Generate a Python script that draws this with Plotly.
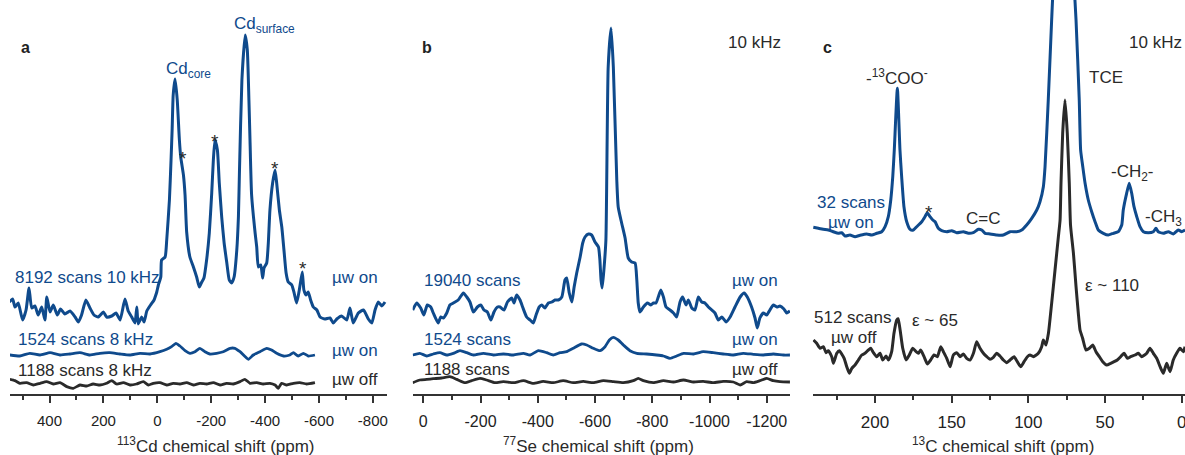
import plotly.graph_objects as go

# ---------------- data (ppm, intensity in arbitrary units) ----------------
# Panel a: 113Cd
CD_MAIN_PPM = [549, 537, 528, 516, 500, 487, 476, 466, 454, 442,
               429, 417, 410, 398, 386, 371, 359, 343, 324, 305,
               293, 281, 265, 250, 235, 219, 200, 188, 169, 153,
               138, 120, 108, 95, 83, 76, 71, 58, 49, 39,
               25, 12, 8, 2, -4, -13, -16, -29, -35, -45,
               -51, -55, -59, -66, -74, -82, -87, -97, -103, -109,
               -121, -134, -146, -156, -165, -173, -183, -193, -202, -208,
               -214, -223, -230, -239, -248, -258, -267, -276, -285, -295,
               -301, -305, -314, -326, -334, -340, -344, -350, -363, -369,
               -375, -384, -391, -396, -406, -412, -418, -428, -437, -443,
               -453, -462, -470, -478, -486, -499, -507, -517, -527, -538,
               -544, -552, -560, -569, -579, -592, -604, -622, -641, -653,
               -666, -684, -703, -715, -727, -746, -765, -783, -796, -808,
               -820, -833, -845]
CD_MAIN_INT = [3, 6, -2, 2, -15, -5, 17, -3, -1, -10,
               -2, -15, 8, -7, 0, -10, -4, -9, -6, -12,
               -17, -10, 5, -3, -10, -12, -7, -12, -11, -8,
               -15, 6, -6, -12, -18, -2, -19, -12, -17, -6,
               0, 5, 8, 13, 20, 28, 45, 48, 65, 105,
               145, 175, 210, 226, 205, 165, 148, 130, 110, 73,
               48, 38, 28, 18, 23, 27, 45, 72, 112, 145,
               165, 155, 122, 88, 62, 42, 25, 22, 28, 55,
               88, 135, 225, 270, 255, 205, 165, 110, 72, 58,
               38, 40, 27, 37, 42, 62, 95, 122, 135, 122,
               95, 78, 55, 32, 23, 20, 13, 2, 15, 33,
               15, 10, 13, 5, -2, -5, -12, -14, -13, -18,
               -14, -11, -15, -3, -18, -8, -5, -14, -18, -5,
               3, -1, 3]

CD_ON8_PPM = [547, 510, 473, 435, 398, 361, 324, 287, 250, 213,
              176, 139, 101, 64, 27, -10, -35, -53, -69, -84,
              -103, -121, -140, -158, -177, -195, -220, -245, -270, -288,
              -307, -338, -356, -381, -406, -424, -443, -468, -492, -505,
              -523, -542, -560, -585]
CD_ON8_INT = [0, -1, 1.7, 0, 2.3, 0, 1, 2.3, 0, 1.7,
              2.3, 1, 0, 1.7, 1, 3.3, 5.7, 8.3, 11.7, 9,
              4.3, 1.7, 3.3, 6.7, 3.3, 1, 1.7, 3.3, 6.7, 6.7,
              3.3, -4.3, 0, 3.3, 6.7, 5, 1.7, -1, 0, 2.3,
              -1, 1.7, -1, 0]

CD_OFF_PPM = [547, 528, 510, 485, 460, 435, 411, 386, 361, 336,
              312, 287, 262, 238, 213, 188, 169, 151, 126, 101,
              77, 52, 33, 15, -10, -35, -59, -84, -109, -134,
              -158, -183, -208, -233, -257, -282, -307, -325, -344, -369,
              -393, -418, -437, -449, -461, -480, -505, -529, -554, -585]
CD_OFF_INT = [4, 2.7, 0, 0.7, -1.7, 0, 1.7, -0.7, 0.7, -3.3,
              -5, -1.7, -2.7, -0.7, -1.7, 0, 2.7, -0.7, 0.7, -1.7,
              -0.7, 1.7, -1.7, 0, 0.7, -1.7, 0, -0.7, 0.7, -1.7,
              0, -0.7, 0.7, -1.7, 0, -0.7, 1.7, 4, 0, 0.7,
              -0.7, 0, -1.7, -5, 0, -1.7, 0, 0.7, -0.7, 0.7]

# Panel b: 77Se
SE_MAIN_PPM = [37, 23, 9, -2, -14, -26, -35, -52, -61, -70,
               -82, -93, -105, -122, -140, -152, -163, -175, -189, -201,
               -212, -224, -236, -247, -259, -268, -282, -294, -309, -317,
               -326, -338, -347, -361, -373, -384, -394, -405, -414, -425,
               -437, -449, -460, -472, -484, -495, -501, -510, -519, -527,
               -536, -548, -557, -565, -577, -588, -600, -612, -617, -621,
               -625, -631, -638, -646, -656, -664, -676, -681, -693, -705,
               -716, -728, -740, -746, -751, -757, -769, -783, -795, -804,
               -813, -821, -830, -839, -848, -862, -874, -885, -897, -906,
               -918, -926, -938, -949, -961, -973, -984, -996, -1008, -1019,
               -1031, -1043, -1058, -1072, -1089, -1107, -1121, -1132, -1147, -1159,
               -1167, -1176, -1188, -1200, -1211, -1223, -1235, -1246, -1260, -1270,
               -1281]
SE_MAIN_INT = [0, 7, 2, -5, 5, 3, -3, -13, -7, -8,
               -3, 5, 7, 10, 17, 13, 8, -2, 3, 5,
               0, -2, -10, -2, 3, 3, 0, 8, 12, 7,
               15, 10, 3, -7, -10, -13, -5, 3, 5, 2,
               7, 8, 10, 10, 13, 30, 32, 17, 8, 23,
               37, 53, 67, 73, 76, 75, 68, 63, 50, 30,
               22, 40, 70, 243, 282, 243, 130, 103, 87, 72,
               52, 48, 47, 30, 7, -2, 3, 7, 5, 7,
               7, 13, 20, 13, 3, 0, -3, -7, 8, 13,
               5, 10, 2, 0, 13, 8, 7, 3, 0, -3,
               -10, -7, -12, -7, 3, 13, 17, 13, 3, -8,
               -18, -8, -3, -5, 0, 5, 3, 4, 1, -3,
               -1]

SE_ON_PPM = [37, 12, -12, -35, -58, -82, -105, -128, -152, -175,
             -210, -245, -280, -315, -350, -373, -402, -431, -454, -478,
             -501, -524, -553, -571, -594, -617, -635, -650, -664, -681,
             -699, -722, -746, -780, -815, -839, -862, -885, -909, -944,
             -978, -1013, -1048, -1083, -1118, -1153, -1188, -1223, -1258, -1281]
SE_ON_INT = [0, 1.7, -1, 1, 2.3, 0, 1.7, 4.3, 2.3, 0,
             1.7, 0, 1, 0, 1.7, 0, 4.3, 2.3, 0, 2.3,
             3.3, 6.7, 11, 10, 6.7, 4.3, 8.3, 15, 17.7, 15,
             10, 4.3, 1.7, 1, 0, -1, -3.3, -1, 1.7, 1,
             3.3, 2.3, 1, 0, 1.7, 0.7, 0, 1, 0, 0]

SE_OFF_PPM = [37, 12, -12, -35, -64, -93, -117, -146, -169, -198,
              -221, -251, -280, -315, -350, -384, -419, -454, -489, -524,
              -559, -594, -629, -664, -699, -734, -751, -769, -804, -839,
              -874, -909, -944, -978, -1013, -1048, -1083, -1107, -1130, -1153,
              -1176, -1200, -1223, -1246, -1281]
SE_OFF_INT = [-1, 1.7, 2.3, 3, 3.7, 5, 2.3, -1, 1, 3.3,
              1.7, -1, 0, -1, 1, -1.7, 0.3, -1, 1, -1,
              0.3, -1, 1, 0, -1, 1, 3.3, 1, -1, 1,
              -0.3, 1.7, -0.3, 0.3, -1, 0.3, -0.3, -3.3, 0, -1,
              1, 3.3, 1, 0, -0.3]

# Panel c: 13C
C_ON_PPM = [240.2, 236.9, 233.7, 230.4, 227.2, 223.9, 221.7, 219.5, 216.3, 213,
            209.7, 205.4, 202.1, 198.9, 195.6, 193.4, 191.3, 189.7, 188.4, 187.4,
            185.4, 183.7, 182.6, 181.1, 179.3, 177.1, 175, 172.8, 169.5, 167.4,
            165.9, 164.1, 162.3, 160.8, 158.7, 156.5, 153.2, 150, 146.7, 142.4,
            139.1, 135.9, 132.6, 130.4, 128.2, 125, 120.6, 116.3, 111.9, 107.6,
            104.3, 101.1, 97.8, 94.5, 92.4, 90.2, 89.1, 87, 84.8, 82.6,
            77.1, 71.5, 68.9, 66.8, 65.9, 64.5, 63, 60.9, 58.7, 56.5,
            54.4, 51.1, 47.9, 44.6, 41.3, 39.1, 38.1, 35.9, 34.2, 32.6,
            31.1, 29.3, 27.2, 25, 21.8, 18.5, 16.8, 15.3, 12, 8.7,
            5.5, 2.2, 0, -2.2]
C_ON_INT = [4.7, 3.7, 2.7, 2, 0.3, -1.3, -0.7, -4, -3, -4.7,
            -3.3, -2, -3, -1.3, 0.3, 5.3, 15.3, 32, 55.3, 82,
            143.7, 82, 55.3, 25.3, 10.3, 2.7, 2, 5.3, 10.3, 15.3,
            19.3, 15.3, 12, 10.3, 3.7, 1.3, 0.3, 1.3, -0.7, 0.3,
            -1.3, -0.7, 2.7, 2, -1.3, -2, -3, -3, 0.3, 0.3,
            2, 7, 13.7, 22, 30.3, 45.3, 65.3, 132, 212, 282,
            382, 282, 212, 132, 82, 65.3, 48.7, 32, 20.3, 10.3,
            2, -1.3, -3, -1.3, 0.3, 7, 22, 38.7, 48.7, 38.7,
            25.3, 15.3, 5.3, 0.3, -0.7, 0.3, 3.7, 0.3, -1.3, 0.3,
            -2, 2, 0.3, 2]

C_OFF_PPM = [240.1, 238, 235.8, 233.6, 231.9, 230.4, 228.2, 227.1, 224.9, 223.2,
             221.7, 220.1, 218.4, 216.7, 215.1, 213, 210.8, 208.6, 206.5, 204.3,
             202.8, 201, 198.9, 196.7, 194.9, 192.8, 191.2, 189.1, 187.6, 185.8,
             184.9, 183.6, 181.9, 179.7, 177.6, 175.4, 173.2, 171.7, 170.2, 168,
             165.8, 163.7, 161.5, 159.3, 157.1, 155.4, 153.2, 151, 148.9, 146.7,
             144.5, 142.4, 140.2, 138, 135.8, 133.7, 131.5, 129.3, 127.1, 125,
             122.8, 120.6, 118.5, 116.3, 114.1, 111.9, 109.3, 107.2, 105, 102.8,
             100.6, 98.9, 96.7, 93.5, 91.3, 90.2, 88.5, 86.9, 84.8, 82.6,
             80.4, 79.3, 78.7, 77.6, 76.1, 74.6, 73.3, 72.5, 70.6, 68.9,
             67.4, 66.3, 64.6, 62.4, 60.2, 58, 55.9, 53.7, 51.5, 48.9,
             46.3, 44.1, 42, 39.8, 37.6, 35.4, 33.3, 30.4, 28.3, 26.1,
             22.8, 20.7, 18.5, 16.3, 14.1, 12, 9.8, 7.6, 5.5, 3.3,
             1.1, -1.1, -2.2]
C_OFF_INT = [17, 13.7, 8.7, 10.3, 4.3, 6.3, 0.3, -6.3, 3.7, 6.3,
             3, -1.3, -9.7, -16.3, -11.3, -8, -3, 2, 3.7, 7,
             8.7, 4.3, 0.3, 3.7, -3, 1, -3, 5.3, 23.7, 37,
             38.3, 27, 8.7, -3, 2, 8.7, 5.3, 3.7, 7, 0.3,
             -7, -3, 2, 0.3, 10.3, 5.3, -1.3, -9.7, 2, 4.3,
             0.3, 3, -1.3, -3, 3.7, 15.3, 8.7, 3.7, 0.3, -2.3,
             -0.3, 3.7, 1, -3, -5.7, -3, 0.3, -4.7, -9.7, -4.7,
             0.3, 2, 0.3, 3.7, 10.3, 17, 12, 23.7, 53.7, 87,
             120.3, 137, 173.7, 223.7, 257, 223.7, 173.7, 132, 103.7, 70.3,
             43.7, 27, 18.7, 7, 8.7, 12, 5.3, 0.3, -4.7, -8,
             -6.3, -4.7, -3, 0.3, 3.7, -1.3, 0.3, 2, 3.7, 0.3,
             3.7, 8.7, 3.7, -1.3, -9.7, -16.3, -6.3, -14.7, -3, 3.7,
             8.7, 5.3, 10.3]

# Tick labels
A_TICKS = [400, 200, 0, -200, -400, -600, -800]
A_MINOR = [500, 300, 100, -100, -300, -500, -700]
B_TICKS = [0, -200, -400, -600, -800, -1000, -1200]
B_MINOR = [-100, -300, -500, -700, -900, -1100]
C_TICKS = [200, 150, 100, 50, 0]
C_MINOR = [225, 175, 125, 75, 25]

# ---------------- styling / layout ----------------
BLUE = "#0f4a8c"
DARK = "#2a2a2a"
FONT = "Arial, Liberation Sans, sans-serif"

# vertical stacking offsets of the spectra
OFF = {"cd_main": 89, "cd_on8": 39, "cd_off": 10.7,
       "se_main": 84, "se_on": 39, "se_off": 12.3,
       "c_on": 162, "c_off": 37}

fig = go.Figure()


def add(x, y, off, color, xa, ya, width):
    fig.add_trace(go.Scatter(
        x=x, y=[v + off for v in y], mode="lines",
        line=dict(color=color, width=width, shape="spline", smoothing=0.5),
        xaxis=xa, yaxis=ya, hoverinfo="skip", showlegend=False))


add(CD_MAIN_PPM, CD_MAIN_INT, OFF["cd_main"], BLUE, "x", "y", 3)
add(CD_ON8_PPM, CD_ON8_INT, OFF["cd_on8"], BLUE, "x", "y", 2.8)
add(CD_OFF_PPM, CD_OFF_INT, OFF["cd_off"], DARK, "x", "y", 2.8)
add(SE_MAIN_PPM, SE_MAIN_INT, OFF["se_main"], BLUE, "x2", "y2", 3)
add(SE_ON_PPM, SE_ON_INT, OFF["se_on"], BLUE, "x2", "y2", 2.8)
add(SE_OFF_PPM, SE_OFF_INT, OFF["se_off"], DARK, "x2", "y2", 2.8)
add(C_ON_PPM, C_ON_INT, OFF["c_on"], BLUE, "x3", "y3", 3)
add(C_OFF_PPM, C_OFF_INT, OFF["c_off"], DARK, "x3", "y3", 3)


def xaxis(domain, rng, ticks, minor, fsize, anchor):
    return dict(domain=domain, range=rng, anchor=anchor, showgrid=False, zeroline=False,
                showline=True, linecolor="#333", linewidth=2,
                ticks="outside", ticklen=7, tickwidth=1.5, tickcolor="#333",
                tickmode="array", tickvals=ticks, ticktext=[str(t) for t in ticks],
                tickfont=dict(family=FONT, size=fsize, color="#222"),
                ticklabelstandoff=5, ticklabeloverflow="allow",
                minor=dict(tickmode="array", tickvals=minor, ticks="outside",
                           ticklen=4, tickwidth=1.5, tickcolor="#333"),
                fixedrange=True)


def yaxis(anchor):
    return dict(domain=[61 / 455, 1], range=[0, 394], visible=False,
                anchor=anchor, fixedrange=True)


xa = xaxis([10 / 1185, 387 / 1185], [546.6, -852.4], A_TICKS, A_MINOR, 15, "y")
xb = xaxis([412.7 / 1185, 790 / 1185], [37.0, -1281.2], B_TICKS, B_MINOR, 16, "y2")
xc = xaxis([812.7 / 1185, 1.0], [240.6, -2.15], C_TICKS, C_MINOR, 17, "y3")

ann = []


def t(text, x, y, ref, color=DARK, size=17, xanchor="center", yanchor="middle", bold=False):
    if bold:
        text = "<b>" + text + "</b>"
    ann.append(dict(text=text, x=x, y=y, xref=ref[0], yref=ref[1], showarrow=False,
                    xanchor=xanchor, yanchor=yanchor,
                    font=dict(family=FONT, size=size, color=color)))


P = ("paper", "paper")
A = ("x", "y")
B = ("x2", "y2")
C = ("x3", "y3")

# panel letters
t("a", 25 / 1185, 1 - 48 / 455, P, color="#222", size=16, bold=True)
t("b", 427 / 1185, 1 - 48 / 455, P, color="#222", size=16, bold=True)
t("c", 828 / 1185, 1 - 48 / 455, P, color="#222", size=16, bold=True)

# axis titles
t("<sup>113</sup>Cd chemical shift (ppm)", 216 / 1185, 1 - 445 / 455, P, size=17)
t("<sup>77</sup>Se chemical shift (ppm)", 598 / 1185, 1 - 445 / 455, P, size=17)
t("<sup>13</sup>C chemical shift (ppm)", 1003 / 1185, 1 - 445 / 455, P, size=17)

# panel a
t("Cd<sub>core</sub>", -114, 324, A, color=BLUE, size=17)
t("Cd<sub>surface</sub>", -396, 369, A, color=BLUE, size=17)
for sx, sy in [(-95, 236), (-214, 253), (-437, 226), (-542, 126)]:
    t("*", sx, sy, A, size=19)
t("8192 scans 10 kHz", 535, 117, A, color=BLUE, xanchor="left")
t("µw on", -826, 117, A, color=BLUE, xanchor="right")
t("1524 scans 8 kHz", 524, 55, A, color=BLUE, xanchor="left")
t("µw on", -826, 44, A, color=BLUE, xanchor="right")
t("1188 scans 8 kHz", 524, 24, A, xanchor="left")
t("µw off", -826, 14.7, A, xanchor="right")

# panel b
t("10 kHz", -1156, 352, B)
t("19040 scans", 4.5, 114, B, color=BLUE, xanchor="left")
t("µw on", -1246, 114, B, color=BLUE, xanchor="right")
t("1524 scans", 4.5, 55, B, color=BLUE, xanchor="left")
t("µw on", -1246, 55, B, color=BLUE, xanchor="right")
t("1188 scans", 4.5, 24.7, B, xanchor="left")
t("µw off", -1246, 24.7, B, xanchor="right")

# panel c
t("10 kHz", 16.8, 352, C)
t("-<sup>13</sup>COO<sup>-</sup>", 185.4, 317, C)
t("TCE", 49.4, 317, C)
t("-CH<sub>2</sub>-", 32.1, 221, C)
t("-CH<sub>3</sub>", 25.2, 176, C, xanchor="left")
t("C=C", 129.6, 176, C)
t("*", 164.6, 182, C, size=19)
t("32 scans", 215.6, 192, C, color=BLUE)
t("µw on", 215.6, 172, C, color=BLUE)
t("512 scans", 214.3, 77, C)
t("µw off", 213.7, 57, C)
t("ε ~ 65", 177.2, 74, C, xanchor="left")
t("ε ~ 110", 64.4, 109, C, xanchor="left")

fig.update_layout(
    width=1185, height=455, margin=dict(l=0, r=0, t=0, b=0),
    paper_bgcolor="white", plot_bgcolor="white",
    xaxis=xa, xaxis2=xb, xaxis3=xc,
    yaxis=yaxis("x"), yaxis2=yaxis("x2"), yaxis3=yaxis("x3"),
    annotations=ann, showlegend=False,
    font=dict(family=FONT, color="#222"),
)

fig.write_html("out.html", config={"displayModeBar": False},
               post_script="document.body.style.margin='0';document.body.style.overflow='hidden';")
